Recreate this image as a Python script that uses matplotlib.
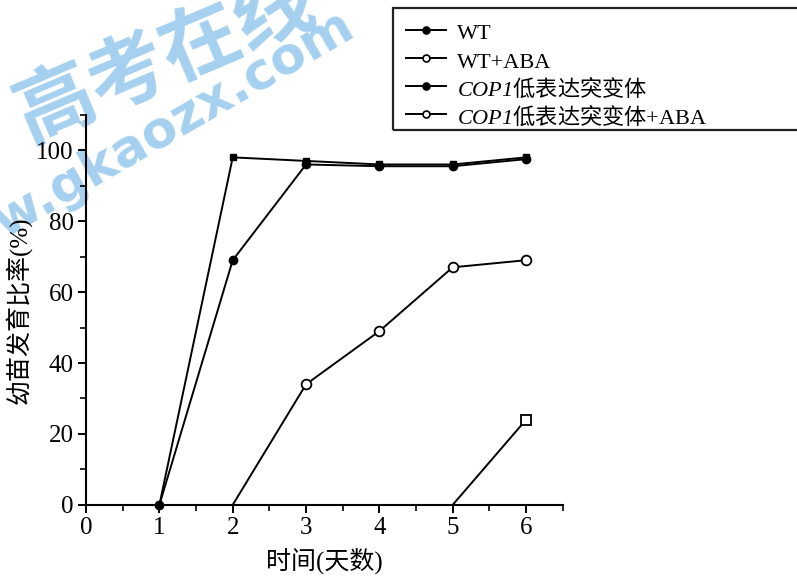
import matplotlib
matplotlib.use("Agg")
import matplotlib.pyplot as plt
from matplotlib.lines import Line2D
from matplotlib.patches import Rectangle
from matplotlib.ticker import MultipleLocator

plt.rcParams['font.family'] = ['Liberation Serif', 'Noto Sans CJK SC']
# Math fonts: italic serif for the gene name, CJK face reached through \mathbf
plt.rcParams['mathtext.fontset'] = 'custom'
plt.rcParams['mathtext.it'] = 'Liberation Serif:italic'
plt.rcParams['mathtext.rm'] = 'Liberation Serif:italic'
plt.rcParams['mathtext.bf'] = 'Noto Sans CJK SC'

# Days after sowing
days = [1, 2, 3, 4, 5, 6]
wt = [0, 98, 97, 96, 96, 98]
cop1 = [0, 69, 96, 95.5, 95.5, 97.5]
days_wt_aba = [5, 6]
wt_aba = [0, 24]
days_cop1_aba = [2, 3, 4, 5, 6]
cop1_aba = [0, 34, 49, 67, 69]

labels = ["WT", "WT+ABA",
          r"$COP1\mathbf{低表达突变体}$",
          r"$COP1\mathbf{低表达突变体}$+ABA"]

fig = plt.figure(figsize=(7.97, 5.77), dpi=100)
ax = fig.add_axes([0.108, 0.125, 0.598, 0.676])
ax.set_zorder(1)
ax.patch.set_alpha(0)

lw = 1.4
ax.plot(days, wt, color='black', lw=lw, marker='s', ms=5, mfc='black', clip_on=False)
ax.plot(days_wt_aba, wt_aba, color='black', lw=lw, marker='s', ms=7, mfc='white',
        mew=1.3, markevery=[1], clip_on=False)
ax.plot(days, cop1, color='black', lw=lw, marker='o', ms=6, mfc='black', clip_on=False)
ax.plot(days_cop1_aba, cop1_aba, color='black', lw=lw, marker='o', ms=7, mfc='white',
        mew=1.3, markevery=[1, 2, 3, 4], clip_on=False)

ax.set_xlim(0, 6.5)
ax.set_ylim(0, 110)
ax.xaxis.set_major_locator(MultipleLocator(1))
ax.xaxis.set_minor_locator(MultipleLocator(0.5))
ax.yaxis.set_minor_locator(MultipleLocator(10))
ax.set_yticks([0, 20, 40, 60, 80, 100])
for s in ['top', 'right']:
    ax.spines[s].set_visible(False)
for s in ['left', 'bottom']:
    ax.spines[s].set_linewidth(1.5)
ax.tick_params(which='major', direction='out', length=6, width=1.4, labelsize=18, pad=3)
ax.tick_params(which='minor', direction='out', length=4, width=1.2)

ax.set_xlabel("时间(天数)", fontsize=18, labelpad=6)
ax.set_ylabel("幼苗发育比率(%)", fontsize=18, labelpad=3)

# Legend in a box reaching past the right edge of the figure
fills = ['black', 'white', 'black', 'white']
handles = [Line2D([], [], color='black', lw=lw, marker='o', ms=5, mfc=f, mew=1.2)
           for f in fills]
leg = fig.legend(handles=handles, labels=labels, loc='upper left',
                 bbox_to_anchor=(0.498, 0.981), frameon=False, fontsize=16,
                 handlelength=1.8, handleheight=1.3, handletextpad=0.5,
                 labelspacing=0.16, borderaxespad=0)
fig.patches.append(Rectangle((0.493, 0.775), 0.6, 0.211, transform=fig.transFigure,
                             fill=False, lw=1.6, edgecolor='#222222'))

# Site watermark
wm = '#a5d0f0'
fig.text(0.208, 0.898, "高考在线", fontsize=57, fontweight='bold', color=wm,
         family='Noto Sans CJK SC', rotation=23, rotation_mode='anchor',
         ha='center', va='center', zorder=0)
fig.text(0.167, 0.743, "www.gkaozx.com", fontsize=37, fontweight='bold', color=wm,
         family='DejaVu Sans', rotation=30, rotation_mode='anchor',
         ha='center', va='center', zorder=0)

fig.savefig("out.png", dpi=100)
